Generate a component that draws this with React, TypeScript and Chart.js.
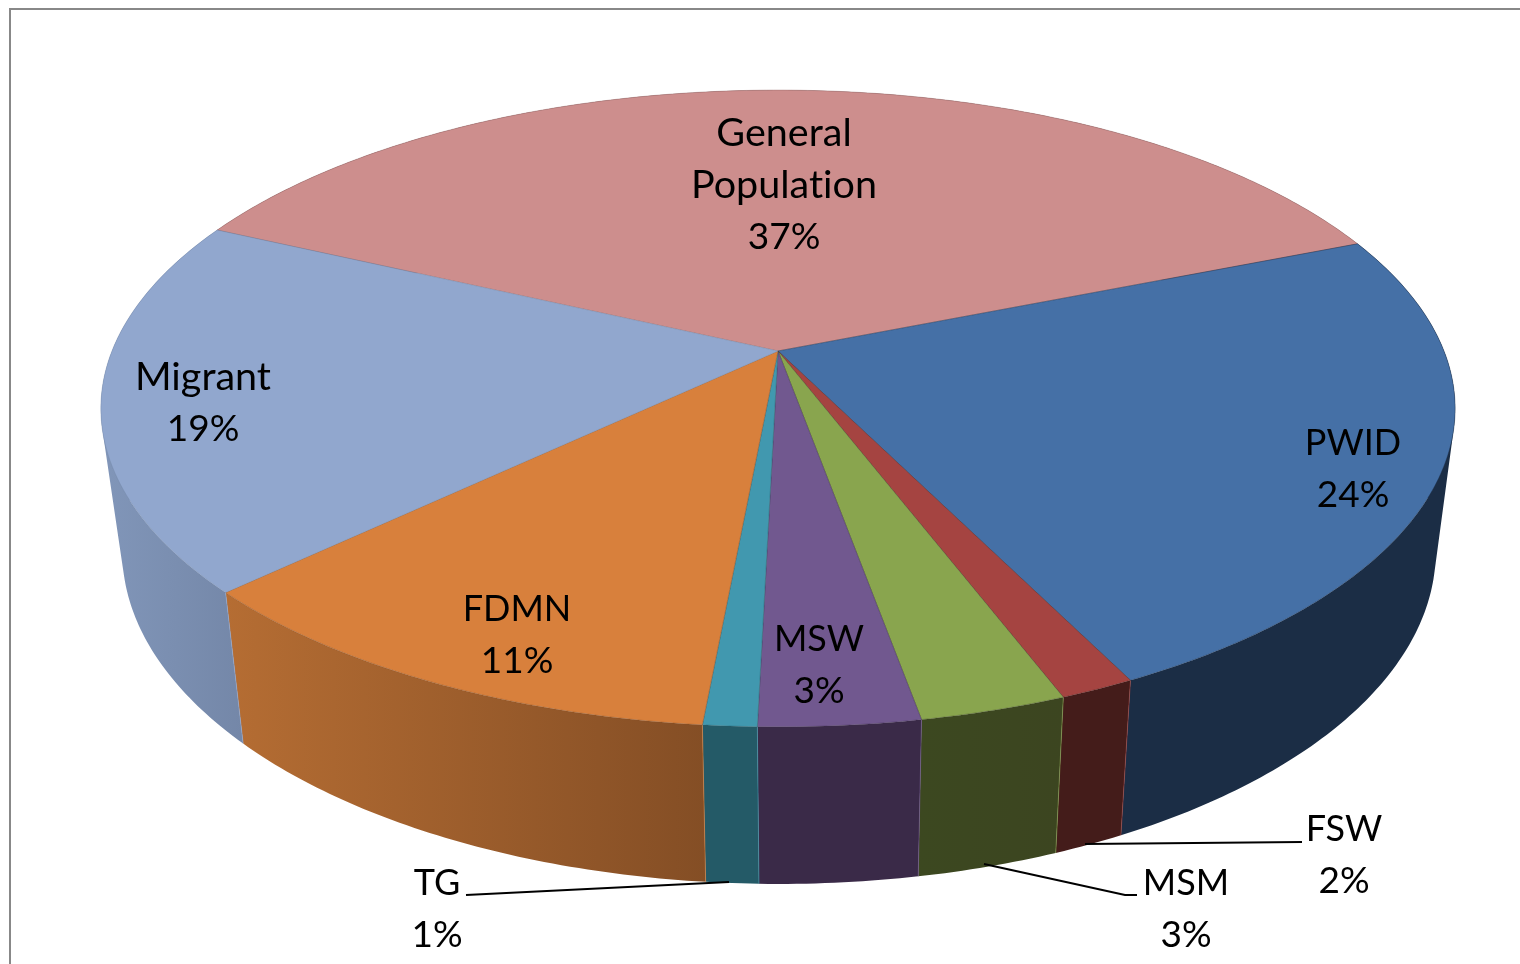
import React, { useEffect, useRef } from "react";
import { Chart, registerables } from "chart.js";

Chart.register(...registerables);

const categories = ["General Population", "PWID", "FSW", "MSM", "MSW", "TG", "FDMN", "Migrant"];
const shares = [37, 23.74, 1.52, 2.96, 3.24, 1.08, 11.46, 19];
const percentLabels = ["37%", "24%", "2%", "3%", "3%", "1%", "11%", "19%"];
const topColors = ["#CD8E8D", "#4570A6", "#A54441", "#89A54E", "#71588F", "#4198AF", "#D8803C", "#91A7CE"];
const wallLeft = ["#8E6261", "#1B2D45", "#441C1A", "#3C4820", "#3A2A48", "#245A67", "#B56D33", "#8196B9"];
const wallRight = ["#8E6261", "#1B2D45", "#441C1A", "#3C4520", "#3A2A48", "#245A67", "#844E25", "#7487A8"];

// Layout of the text, separate from the data
const labelLayout: Record<string, { x: number; y: number; lines: string[] }> = {
  "General Population": { x: 784, y: 133, lines: ["General", "Population"] },
  PWID: { x: 1353, y: 443, lines: ["PWID"] },
  FSW: { x: 1344, y: 829, lines: ["FSW"] },
  MSM: { x: 1186, y: 883, lines: ["MSM"] },
  MSW: { x: 819, y: 639, lines: ["MSW"] },
  TG: { x: 437, y: 883, lines: ["TG"] },
  FDMN: { x: 517, y: 609, lines: ["FDMN"] },
  Migrant: { x: 203, y: 377, lines: ["Migrant"] },
};
const leaders: number[][][] = [
  [[1085, 844], [1302, 842]],
  [[984, 864], [1125, 895], [1137, 895]],
  [[729, 882], [466, 895]],
];

// Perspective projection of the pie's disc (top face and bottom face)
const topFace = { cx: 778, cy: 351, a: 666, b: 308, k: 0.1805 };
const baseFace = { cx: 779, cy: 491, a: 646, b: 322, k: 0.1805 };
type Face = typeof topFace;

function project(f: Face, angle: number): [number, number] {
  const u = Math.cos(angle);
  const v = -Math.sin(angle);
  const w = 1 + f.k * v;
  return [f.cx + (f.a * u) / w, f.cy - (f.b * v) / w];
}

function samples(start: number, end: number): number[] {
  const n = Math.max(2, Math.ceil((end - start) / 0.012));
  const out: number[] = [];
  for (let i = 0; i <= n; i++) out.push(start + ((end - start) * i) / n);
  return out;
}

function fontSizeFor(t: string): number {
  if (/[a-z]/.test(t)) return 39.5;
  if (/[0-9]/.test(t)) return 37;
  return 36;
}

const pie3d = {
  id: "pie3d",
  beforeDraw(chart: any) {
    const { ctx } = chart;
    ctx.save();
    ctx.fillStyle = "#FFFFFF";
    ctx.fillRect(0, 0, chart.width, chart.height);
    ctx.strokeStyle = "#888888";
    ctx.lineWidth = 2;
    ctx.beginPath();
    ctx.moveTo(10, chart.height + 2);
    ctx.lineTo(10, 9);
    ctx.lineTo(chart.width + 2, 9);
    ctx.stroke();
    ctx.restore();
  },
  beforeDatasetsDraw(chart: any) {
    const { ctx } = chart;
    const arcs = chart.getDatasetMeta(0).data;
    ctx.save();
    ctx.lineJoin = "round";
    // side walls: one path per slice, every quad wound the same way so the union fills cleanly
    arcs.forEach((arc: any, i: number) => {
      const angles = samples(arc.startAngle, arc.endAngle);
      const top = angles.map((a) => project(topFace, a));
      const base = angles.map((a) => project(baseFace, a));
      const xs = [...top, ...base].map((p) => p[0]);
      const g = ctx.createLinearGradient(Math.min(...xs), 0, Math.max(...xs), 0);
      g.addColorStop(0, wallLeft[i]);
      g.addColorStop(1, wallRight[i]);
      ctx.fillStyle = g;
      ctx.beginPath();
      for (let j = 0; j + 1 < top.length; j++) {
        let quad = [top[j], top[j + 1], base[j + 1], base[j]];
        let area = 0;
        quad.forEach((p, n) => {
          const q = quad[(n + 1) % 4];
          area += p[0] * q[1] - q[0] * p[1];
        });
        if (area < 0) quad = quad.slice().reverse();
        quad.forEach((p, n) => (n ? ctx.lineTo(p[0], p[1]) : ctx.moveTo(p[0], p[1])));
        ctx.closePath();
      }
      ctx.fill("nonzero");
    });
    // lighter seams between the walls
    arcs.forEach((arc: any, i: number) => {
      const a = project(topFace, arc.endAngle);
      const b = project(baseFace, arc.endAngle);
      ctx.strokeStyle = topColors[(i + 1) % topColors.length];
      ctx.globalAlpha = 0.6;
      ctx.lineWidth = 1;
      ctx.beginPath();
      ctx.moveTo(a[0], a[1]);
      ctx.lineTo(b[0], b[1]);
      ctx.stroke();
      ctx.globalAlpha = 1;
    });
    // top face
    arcs.forEach((arc: any, i: number) => {
      ctx.beginPath();
      ctx.moveTo(topFace.cx, topFace.cy);
      samples(arc.startAngle, arc.endAngle).forEach((a) => {
        const p = project(topFace, a);
        ctx.lineTo(p[0], p[1]);
      });
      ctx.closePath();
      ctx.fillStyle = arc.options.backgroundColor;
      ctx.fill();
      ctx.strokeStyle = wallRight[i];
      ctx.globalAlpha = 0.4;
      ctx.lineWidth = 1;
      ctx.stroke();
      ctx.globalAlpha = 1;
    });
    ctx.restore();
    return false;
  },
  afterDraw(chart: any) {
    const { ctx } = chart;
    ctx.save();
    ctx.strokeStyle = "#000000";
    ctx.lineWidth = 2;
    leaders.forEach((line) => {
      ctx.beginPath();
      line.forEach((p, j) => (j ? ctx.lineTo(p[0], p[1]) : ctx.moveTo(p[0], p[1])));
      ctx.stroke();
    });
    ctx.fillStyle = "#000000";
    ctx.textAlign = "center";
    ctx.textBaseline = "middle";
    ctx.letterSpacing = "0.01px"; // keeps Lato from joining "ti" into a ligature
    categories.forEach((name, i) => {
      const l = labelLayout[name];
      [...l.lines, percentLabels[i]].forEach((t, j) => {
        ctx.font = `${fontSizeFor(t)}px Lato, "Open Sans", sans-serif`;
        ctx.fillText(t, l.x, l.y + j * 52);
      });
    });
    ctx.restore();
  },
};

export default function App() {
  const ref = useRef<HTMLCanvasElement>(null);
  useEffect(() => {
    const chart = new Chart(ref.current as HTMLCanvasElement, {
      type: "pie",
      data: {
        labels: categories,
        datasets: [{ data: shares, backgroundColor: topColors, borderWidth: 0 }],
      },
      options: {
        animation: false,
        responsive: false,
        rotation: -65,
        plugins: { legend: { display: false }, tooltip: { enabled: false } },
      },
      plugins: [pie3d],
    } as any);
    return () => chart.destroy();
  }, []);
  return (
    <div style={{ position: "fixed", left: 0, top: 0, width: 1520, height: 964, overflow: "hidden" }}>
      <canvas ref={ref} width={1520} height={964} style={{ display: "block" }} />
    </div>
  );
}
